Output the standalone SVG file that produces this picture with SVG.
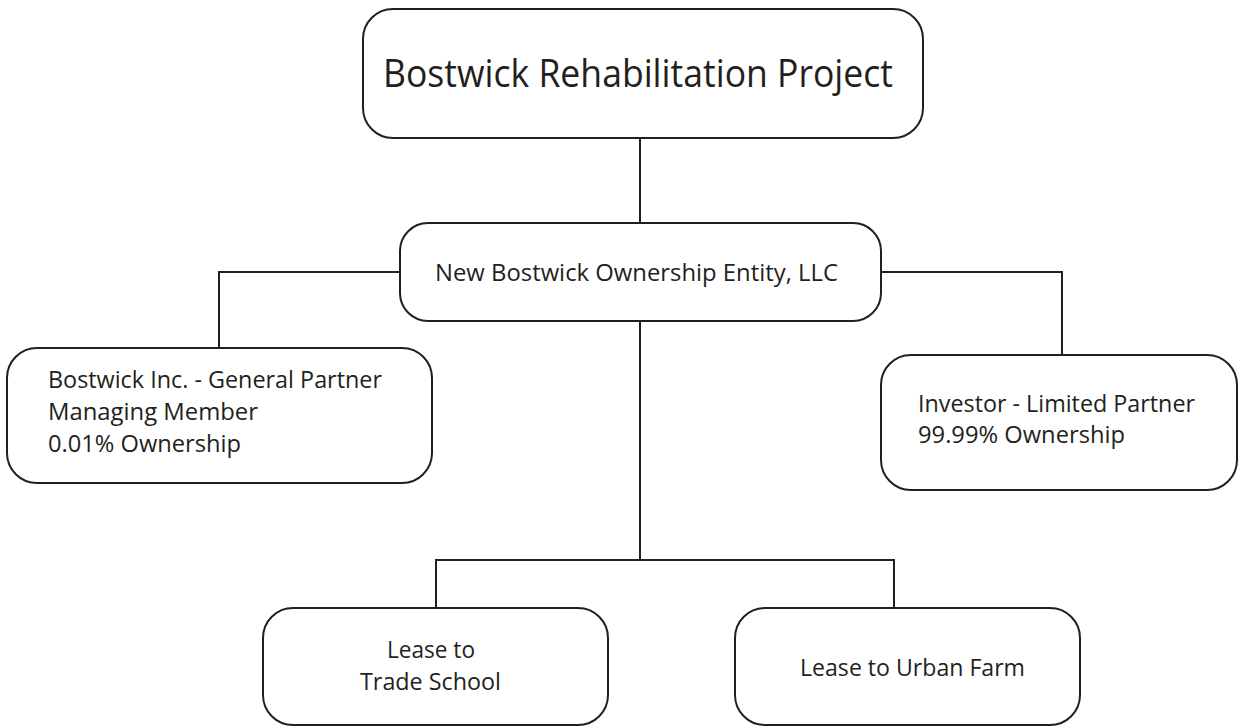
<svg xmlns="http://www.w3.org/2000/svg" width="1239" height="727" viewBox="0 0 1239 727">
<style>
.box{fill:#fff;stroke:#231f20;stroke-width:2}
.conn{fill:none;stroke:#231f20;stroke-width:2}
text{font-family:"Open Sans","Noto Sans","Liberation Sans",sans-serif;fill:#231f20}
.t1{font-size:38px}
.t2{font-size:24px}
</style>
<rect width="1239" height="727" fill="#fff"/>
<g id="connectors">
<path class="conn" d="M640 138V223"/>
<path class="conn" d="M400 272H219V348"/>
<path class="conn" d="M881 272H1062V355"/>
<path class="conn" d="M640 321V560"/>
<path class="conn" d="M436 608V560H894V608"/>
</g>
<g id="project">
<rect class="box" x="363" y="9" width="560" height="129" rx="30"/>
<text class="t1" x="383" y="87" textLength="510" lengthAdjust="spacingAndGlyphs">Bostwick Rehabilitation Project</text>
</g>
<g id="entity">
<rect class="box" x="400" y="223" width="481" height="98" rx="28"/>
<text class="t2" x="435" y="281" textLength="403" lengthAdjust="spacingAndGlyphs">New Bostwick Ownership Entity, LLC</text>
</g>
<g id="general-partner">
<rect class="box" x="7" y="348" width="425" height="135" rx="30"/>
<text class="t2" x="48" y="388" textLength="334" lengthAdjust="spacingAndGlyphs">Bostwick Inc. - General Partner</text>
<text class="t2" x="48" y="420" textLength="210" lengthAdjust="spacingAndGlyphs">Managing Member</text>
<text class="t2" x="48" y="452" textLength="193" lengthAdjust="spacingAndGlyphs">0.01% Ownership</text>
</g>
<g id="limited-partner">
<rect class="box" x="881" y="355" width="356" height="135" rx="30"/>
<text class="t2" x="918" y="412" textLength="277" lengthAdjust="spacingAndGlyphs">Investor - Limited Partner</text>
<text class="t2" x="918" y="443" textLength="207" lengthAdjust="spacingAndGlyphs">99.99% Ownership</text>
</g>
<g id="trade-school">
<rect class="box" x="263" y="608" width="345" height="117" rx="30"/>
<text class="t2" x="387" y="658" textLength="88" lengthAdjust="spacingAndGlyphs">Lease to</text>
<text class="t2" x="360" y="690" textLength="141" lengthAdjust="spacingAndGlyphs">Trade School</text>
</g>
<g id="urban-farm">
<rect class="box" x="735" y="608" width="345" height="117" rx="30"/>
<text class="t2" x="800" y="676" textLength="225" lengthAdjust="spacingAndGlyphs">Lease to Urban Farm</text>
</g>
</svg>
